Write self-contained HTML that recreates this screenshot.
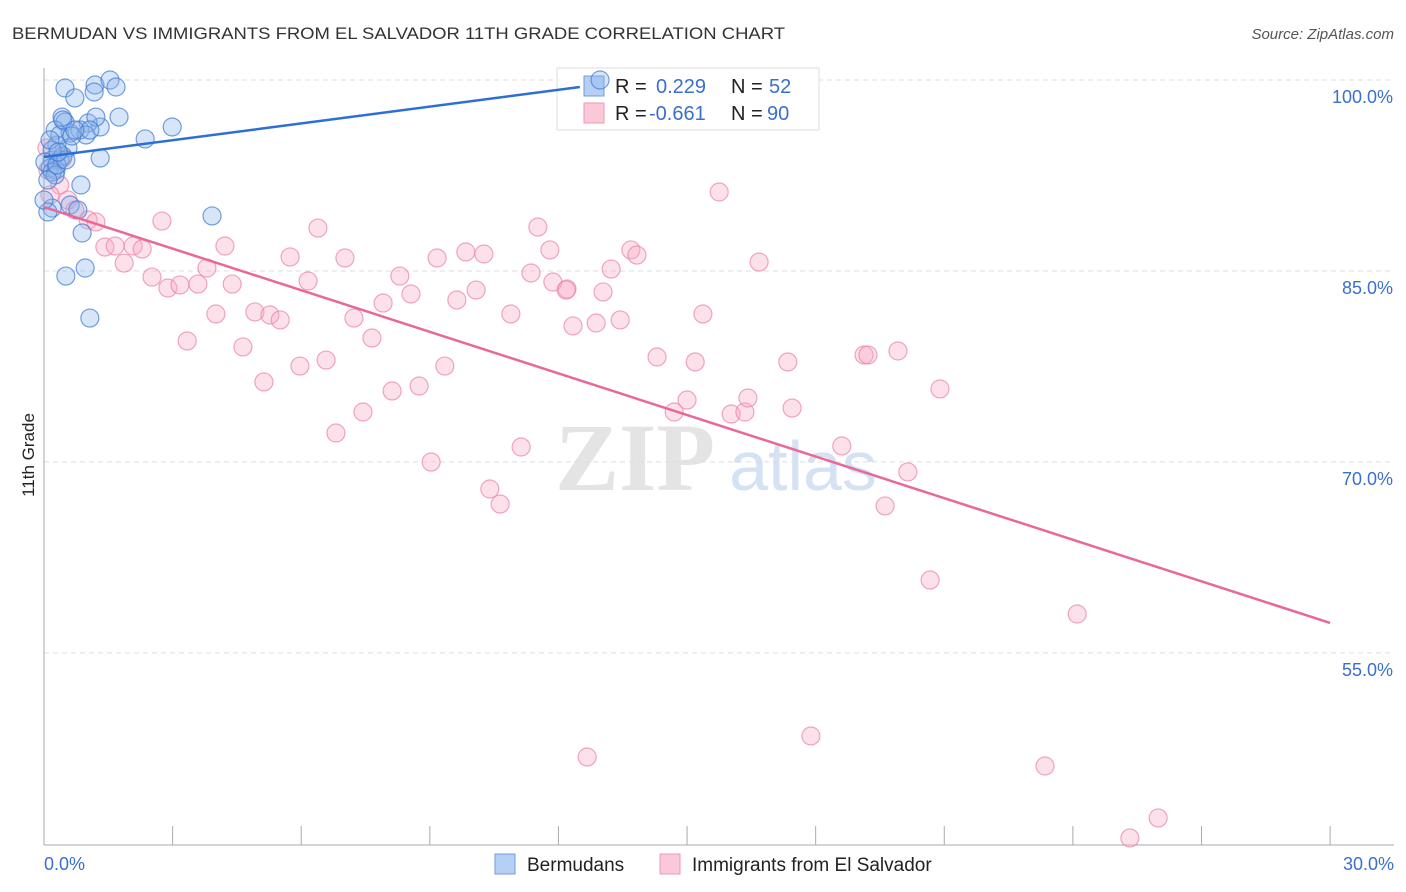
<!DOCTYPE html>
<html><head><meta charset="utf-8"><style>
body{margin:0;background:#fff;font-family:"Liberation Sans",sans-serif;}
svg{display:block}
</style></head><body>
<svg id="chart" width="1406" height="892">
<text x="12" y="39" font-size="17" fill="#333" textLength="773" lengthAdjust="spacingAndGlyphs">BERMUDAN VS IMMIGRANTS FROM EL SALVADOR 11TH GRADE CORRELATION CHART</text>
<text x="1394" y="39" font-size="15" fill="#555" font-style="italic" text-anchor="end">Source: ZipAtlas.com</text>
<text x="34" y="455" font-size="17" fill="#222" transform="rotate(-90 34 455)" text-anchor="middle">11th Grade</text>
<g>
<text x="635" y="490" font-size="96" font-family="Liberation Serif,serif" font-weight="bold" fill="#e4e4e4" text-anchor="middle">ZIP</text>
<text x="803" y="490" font-size="70" fill="#d4e2f4" text-anchor="middle">atlas</text>
</g>
<g id="grid"></g><g id="axes"></g>
<g>
<rect x="557" y="68" width="262" height="62" fill="#fff" fill-opacity="0.85" stroke="#ddd"/>
<rect x="584" y="76" width="20" height="20" fill="#b6d0f5" stroke="#6f9de0"/>
<rect x="584" y="103" width="20" height="20" fill="#fbc8d8" stroke="#ee9ab5"/>
<text x="615" y="93" font-size="20" fill="#222">R =</text><text x="656" y="93" font-size="20" fill="#3a6fd0">0.229</text>
<text x="731" y="93" font-size="20" fill="#222">N =</text><text x="769" y="93" font-size="20" fill="#3a6fd0">52</text>
<text x="615" y="120" font-size="20" fill="#222">R =</text><text x="649" y="120" font-size="20" fill="#3a6fd0">-0.661</text>
<text x="731" y="120" font-size="20" fill="#222">N =</text><text x="767" y="120" font-size="20" fill="#3a6fd0">90</text>
</g>
<g id="pts"></g><g id="lines"></g>
<g>
<rect x="495" y="854" width="20" height="20" fill="#b6d0f5" stroke="#6f9de0"/>
<text x="527" y="871" font-size="19" fill="#222">Bermudans</text>
<rect x="660" y="854" width="20" height="20" fill="#fbc8d8" stroke="#ee9ab5"/>
<text x="692" y="871" font-size="19" fill="#222">Immigrants from El Salvador</text>
</g>
</svg>
<script>
const yTicks=[100,85,70,55];
const yTickLabels=["100.0%","85.0%","70.0%","55.0%"];
const xTicks=[0,3,6,9,12,15,18,21,24,27,30];
const blueX=[.49,1.19,1.54,1.68,1.17,.72,1.75,2.99,2.36,1.31,1.03,1.21,.42,.49,.26,.61,.84,.98,.30,.56,.19,.37,.44,.14,.28,1.31,.86,.19,.09,.61,.89,3.92,.96,.51,1.07,.37,.19,.02,.65,.19,.44,12.97,.26,.09,.30,1.07,.72,.51,.14,.79,.33,0];
const blueY=[99.37,99.61,100,99.45,99.06,98.59,97.09,96.31,95.37,96.31,96.62,97.09,97.09,96.70,96.07,95.84,96.07,95.68,94.89,94.66,93.72,93.72,94.03,93.09,92.93,93.87,91.75,89.94,89.63,90.18,87.98,89.32,85.23,84.60,81.30,95.68,94.50,93.56,95.60,92.77,96.86,100,92.54,92.14,93.32,96.07,96.07,93.72,95.29,89.79,94.34,90.57];
const pinkX=[.07,.37,.14,.56,.72,1.03,1.21,.44,.09,1.42,1.66,2.08,2.29,1.87,2.75,2.52,2.89,3.17,3.59,3.80,4.22,4.39,4.01,3.34,4.64,4.92,5.27,5.51,5.13,5.74,6.16,6.39,5.97,6.58,6.81,7.02,7.23,7.44,7.65,7.91,8.12,8.30,8.56,8.75,9.17,9.35,9.63,9.84,10.08,10.26,10.89,11.13,11.36,11.52,11.80,11.87,12.20,12.34,12.67,12.88,13.04,13.23,13.44,13.69,13.83,14.30,14.70,15.0,15.19,15.37,15.75,16.03,16.35,16.42,16.68,17.35,17.45,17.89,18.61,19.13,19.22,19.62,19.92,20.15,20.67,20.90,23.35,24.10,25.33,25.99,9.03,10.40,10.64,12.18];
const pinkY=[94.66,91.75,90.97,90.57,89.79,89.0,88.85,93.87,92.93,86.88,86.96,86.96,86.72,85.62,88.92,84.52,83.66,83.90,83.97,85.23,86.96,83.97,81.62,79.50,79.03,81.78,81.54,81.15,76.28,86.10,84.21,88.37,77.53,78.0,72.27,86.02,81.30,73.92,79.73,82.48,75.57,84.60,83.19,75.96,86.02,77.53,82.72,86.49,83.50,86.33,81.62,71.17,84.84,88.45,86.65,84.13,83.58,80.68,46.82,80.91,83.35,85.15,81.15,86.65,86.25,78.24,73.92,74.86,77.85,81.62,91.20,73.76,73.92,75.02,85.70,77.85,74.23,48.47,71.25,78.40,78.40,66.54,78.71,69.21,60.72,75.73,46.11,58.05,40.46,42.03,69.99,67.87,66.69,83.50];
const blueTrend=[[0,93.95],[12.5,99.45]];
const pinkTrend=[[0,90.02],[30,57.35]];
const NS='http://www.w3.org/2000/svg';
const X=v=>44+v*42.87, Y=v=>80+(100-v)*12.73;
function mk(tag,attrs,parent){const e=document.createElementNS(NS,tag);for(const k in attrs)e.setAttribute(k,attrs[k]);document.getElementById(parent).appendChild(e);return e;}
yTicks.forEach((t,i)=>{
 const g=mk('line',{x1:44,x2:1394,y1:Y(t),y2:Y(t),stroke:'#ddd','stroke-dasharray':'5,4'},'grid');
 
 
 const l=mk('text',{x:1393,y:Y(t)+23,'font-size':18,fill:'#3a6fd0','text-anchor':'end'},'grid');
 l.textContent=yTickLabels[i];
 
 
});
const ax=mk('line',{x1:44,x2:44,y1:68,y2:845,stroke:'#aaa'},'axes');


const bx=mk('line',{x1:44,x2:1394,y1:845,y2:845,stroke:'#aaa'},'axes');


xTicks.forEach(t=>{const k=mk('line',{x1:X(t),x2:X(t),y1:826,y2:845,stroke:'#aaa'},'axes');
 
 });
const xl0=mk('text',{x:44,y:870,'font-size':18,fill:'#3a6fd0'},'axes');xl0.textContent=xTicks[0].toFixed(1)+'%';


const xl1=mk('text',{x:1394,y:870,'font-size':18,fill:'#3a6fd0','text-anchor':'end'},'axes');xl1.textContent=xTicks[xTicks.length-1].toFixed(1)+'%';


pinkX.forEach((v,i)=>{const c=mk('circle',{cx:X(v),cy:Y(pinkY[i]),r:9,fill:'rgba(248,170,195,0.35)',stroke:'rgba(232,130,165,0.7)','stroke-width':1.2},'pts');
 
 });
blueX.forEach((v,i)=>{const c=mk('circle',{cx:X(v),cy:Y(blueY[i]),r:9,fill:'rgba(140,180,235,0.35)',stroke:'rgba(60,120,210,0.7)','stroke-width':1.2},'pts');
 
 });
const bl=mk('line',{x1:X(blueTrend[0][0]),y1:Y(blueTrend[0][1]),x2:X(blueTrend[1][0]),y2:Y(blueTrend[1][1]),stroke:'#2e6fd6','stroke-width':2.5},'lines');


const pl=mk('line',{x1:X(pinkTrend[0][0]),y1:Y(pinkTrend[0][1]),x2:X(pinkTrend[1][0]),y2:Y(pinkTrend[1][1]),stroke:'#e8689a','stroke-width':2.5},'lines');


</script>
</body></html>
